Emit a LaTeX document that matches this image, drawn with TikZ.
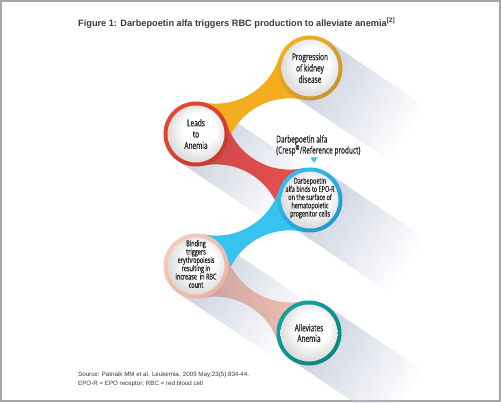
\documentclass[tikz,border=0pt]{standalone}
\usepackage{fontspec}
\setmainfont{Liberation Sans}
\newfontfamily\condf[FakeStretch=0.68, FakeBold=0.9]{Open Sans}
\usetikzlibrary{fadings}
\definecolor{bandorange}{HTML}{F4AD1F}
\definecolor{ringPa}{HTML}{F6AE1E}
\definecolor{ringPb}{HTML}{C99530}
\definecolor{redA}{HTML}{C9474A}
\definecolor{redB}{HTML}{EE524F}
\definecolor{ringLa}{HTML}{E8472B}
\definecolor{ringLb}{HTML}{C63B2E}
\definecolor{blueband}{HTML}{37C2F0}
\definecolor{ringBa}{HTML}{33BDEE}
\definecolor{ringBb}{HTML}{1F9AD0}
\definecolor{pinkA}{HTML}{C7A0A0}
\definecolor{pinkB}{HTML}{F2C3B3}
\definecolor{ringBia}{HTML}{F6CBBB}
\definecolor{ringBib}{HTML}{EDB3A3}
\definecolor{ringAa}{HTML}{12A39C}
\definecolor{ringAb}{HTML}{0B8580}
\definecolor{shc}{HTML}{C9D0DE}
\definecolor{framec}{HTML}{A6A6A6}
\definecolor{textc}{HTML}{262626}
\definecolor{titlec}{HTML}{3A3A3A}
\pgfdeclareradialshading{discshade}{\pgfpoint{4bp}{6bp}}{color(0bp)=(white); color(14bp)=(white); color(26bp)=(black!13); color(50bp)=(black!13)}
\tikzfading[name=shfade, left color=transparent!0, right color=transparent!100]
\def\rc{32.5}
\def\rg{66}
\newdimen\mbxa \newdimen\mbya \newdimen\mbxb \newdimen\mbyb
\newcommand\metaband[3]{%
  \pgfextractx{\mbxa}{\pgfpointanchor{#1}{center}}%
  \pgfextracty{\mbya}{\pgfpointanchor{#1}{center}}%
  \pgfextractx{\mbxb}{\pgfpointanchor{#2}{center}}%
  \pgfextracty{\mbyb}{\pgfpointanchor{#2}{center}}%
  \pgfmathsetmacro\mbang{atan2(\mbyb-\mbya,\mbxb-\mbxa)}%
  \pgfmathsetmacro\mbb{acos(veclen(\mbxb-\mbxa,\mbyb-\mbya)/(2*(\rc+\rg)))}%
  \path[#3] (#1) -- ++(\mbang+\mbb:\rc)
    arc[start angle=\mbang+180+\mbb, end angle=\mbang+360-\mbb, radius=\rg]
    -- (#2) -- ++(\mbang+180+\mbb:\rc)
    arc[start angle=\mbang+\mbb, end angle=\mbang+180-\mbb, radius=\rg] -- cycle;}
\begin{document}
\begin{tikzpicture}[x=1pt,y=1pt,
  txt/.style={text=textc, align=center, inner sep=0pt},
  shadowstrip/.style={fill=shc, path fading=shfade}]
\useasboundingbox (0,0) rectangle (501,-403);
\fill[white] (0,0) rectangle (501,-403);
\draw[framec, line width=2] (1,-1) rectangle (499.5,-401);

\coordinate (P) at (310,-68);
\coordinate (L) at (196,-134);
\coordinate (B) at (310,-200);
\coordinate (Bi) at (196,-266);
\coordinate (A) at (309,-333);

% long shadows
\foreach \c in {P,L,B,Bi,A}{
  \begin{scope}[transform canvas={shift={(\c)},rotate=-34}]
    \fill[shadowstrip] (0,-32.5) rectangle (118,32.5);
  \end{scope}}

% connecting bands
\metaband{L}{P}{fill=bandorange}
\metaband{L}{B}{left color=redA, right color=redB}
\metaband{Bi}{B}{fill=blueband}
\metaband{Bi}{A}{left color=pinkA, right color=pinkB}

% circles
\foreach \c/\ca/\cb in {P/ringPa/ringPb, L/ringLa/ringLb, B/ringBa/ringBb, Bi/ringBia/ringBib, A/ringAa/ringAb}{
  \shade[top color=\ca, bottom color=\cb, shading angle=40] (\c) circle (32.5);
  \shade[shading=discshade] (\c) circle (28.5);}

\node[txt, font=\condf\fontsize{9.6}{11.3}\selectfont] (Pt) at (P) {Progression\\of kidney\\disease};
\node[txt, font=\condf\fontsize{9.6}{11.3}\selectfont] (Lt) at (L) {Leads\\to\\Anemia};
\node[txt, font=\condf\fontsize{8.1}{8.2}\selectfont] (Bt) at (310,-198) {Darbepoetin\\alfa binds to EPO-R\\on the surface of\\hematopoietic\\progenitor cells};
\node[txt, font=\condf\fontsize{8.1}{8.3}\selectfont] (Bit) at (196,-264) {Binding\\triggers\\erythropoiesis\\resulting in\\increase\ \ in RBC\\count};
\node[txt, font=\condf\fontsize{9.6}{10.5}\selectfont] (At) at (A) {Alleviates\\Anemia};

\node[txt, align=left, anchor=west, font=\condf\fontsize{9.6}{11}\selectfont] (lab) at (276,-145.5) {Darbepoetin alfa\\(Cresp\textsuperscript{®}/Reference product)};
\fill[blueband] (310.5,-157.5) -- (317.5,-157.5) -- (314,-163) -- cycle;

\node[anchor=west, inner sep=0pt, text=titlec, font=\bfseries\fontsize{9.2}{11}\selectfont] (title) at (78,-23) {Figure 1: Darbepoetin alfa triggers RBC production to alleviate anemia\textsuperscript{[2]}};
\node[anchor=west, inner sep=0pt, text=titlec, font=\fontsize{6.2}{7}\selectfont] (src) at (78,-375) {Source: Patnaik MM et al. Leukemia. 2009 May;23(5):834-44.};
\node[anchor=west, inner sep=0pt, text=titlec, font=\fontsize{6.2}{7}\selectfont] (abbr) at (78,-384) {EPO-R = EPO receptor; RBC = red blood cell};
\end{tikzpicture}
\end{document}
